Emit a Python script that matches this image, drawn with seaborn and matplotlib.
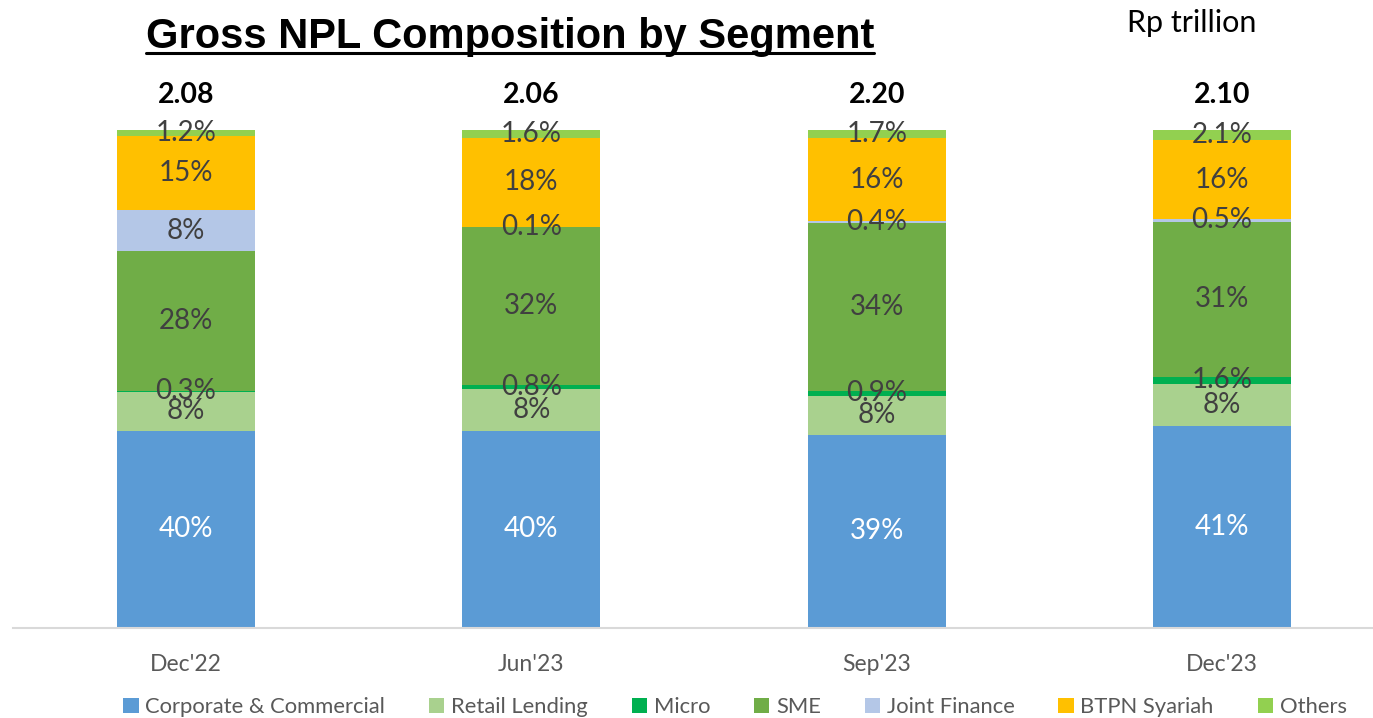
import matplotlib
matplotlib.use("Agg")
import matplotlib.pyplot as plt
from matplotlib.lines import Line2D
from matplotlib.patches import Patch
import seaborn as sns
import pandas as pd
import numpy as np

periods = ["Dec'22", "Jun'23", "Sep'23", "Dec'23"]
totals = ["2.08", "2.06", "2.20", "2.10"]
segments = ["Corporate & Commercial", "Retail Lending", "Micro", "SME",
            "Joint Finance", "BTPN Syariah", "Others"]
corporate = [39.8, 39.6, 38.8, 40.6]
retail = [7.8, 8.4, 7.8, 8.3]
micro = [0.3, 0.8, 0.9, 1.6]
sme = [28.1, 31.7, 33.8, 31.1]
joint = [8.4, 0.1, 0.4, 0.5]
btpn = [14.9, 17.8, 16.5, 15.8]
others = [1.2, 1.6, 1.7, 2.1]
labels_corporate = ["40%", "40%", "39%", "41%"]
labels_retail = ["8%", "8%", "8%", "8%"]
labels_micro = ["0.3%", "0.8%", "0.9%", "1.6%"]
labels_sme = ["28%", "32%", "34%", "31%"]
labels_joint = ["8%", "0.1%", "0.4%", "0.5%"]
labels_btpn = ["15%", "18%", "16%", "16%"]
labels_others = ["1.2%", "1.6%", "1.7%", "2.1%"]

colors = ["#5B9BD5", "#A9D18E", "#00B050", "#70AD47", "#B4C7E7", "#FFC000", "#92D050"]
series = [corporate, retail, micro, sme, joint, btpn, others]
labels = [labels_corporate, labels_retail, labels_micro, labels_sme,
          labels_joint, labels_btpn, labels_others]

sns.set_style("white")
plt.rcParams["font.family"] = ["Lato", "DejaVu Sans"]

fig = plt.figure(figsize=(13.73, 7.18), dpi=100)
ax = fig.add_axes([13 / 1373, 90 / 718, 1360 / 1373, 498 / 718])

vals = np.array(series, dtype=float)
vals = vals / vals.sum(axis=0) * 100.0
cum = np.cumsum(vals, axis=0)

# draw cumulative bars from the top layer down so lower layers cover upper ones
for i in range(len(segments) - 1, -1, -1):
    df = pd.DataFrame({"period": periods, "value": cum[i]})
    sns.barplot(data=df, x="period", y="value", color=colors[i], width=0.4,
                saturation=1, ax=ax, order=periods, errorbar=None,
                linewidth=0, edgecolor="none")

for i, seg in enumerate(segments):
    for j in range(len(periods)):
        bottom = cum[i - 1][j] if i > 0 else 0
        yc = bottom + vals[i][j] / 2
        ax.text(j, yc, labels[i][j], ha="center", va="center", fontsize=20,
                color="white" if i == 0 else "#404040", zorder=10)

for j, t in enumerate(totals):
    ax.text(j, 105.5, t, ha="center", va="baseline", fontsize=20.5,
            fontweight="bold", color="black", clip_on=False)

ax.set_xlim(-0.501, 3.437)
ax.set_ylim(0, 100)
ax.set_xlabel("")
ax.set_ylabel("")
ax.set_yticks([])
ax.tick_params(axis="x", length=0, pad=19, labelsize=16.5, labelcolor="#595959")
for s in ["top", "left", "right"]:
    ax.spines[s].set_visible(False)
ax.spines["bottom"].set_color("#D9D9D9")
ax.spines["bottom"].set_linewidth(1.5)

title = fig.text(510 / 1373, 1 - 48 / 718, "Gross NPL Composition by Segment",
                 ha="center", va="baseline", fontsize=30, fontweight="bold",
                 family="Liberation Sans", color="black")
fig.text(1192 / 1373, 1 - 32 / 718, "Rp trillion", ha="center", va="baseline",
         fontsize=22, color="black")

fig.canvas.draw()
bb = title.get_window_extent(renderer=fig.canvas.get_renderer())
bbf = bb.transformed(fig.transFigure.inverted())
uy = 1 - 53 / 718
fig.add_artist(Line2D([bbf.x0, bbf.x1], [uy, uy], color="black", linewidth=2.2,
                      transform=fig.transFigure))

handles = [Patch(facecolor=c, edgecolor="none") for c in colors]
fig.legend(handles, segments, loc="center", bbox_to_anchor=(735 / 1373, 1 - 707 / 718),
           ncol=7, frameon=False, fontsize=15.8, labelcolor="#595959",
           handlelength=0.7, handleheight=0.7, handletextpad=0.3, columnspacing=2.0)

fig.savefig("out.png", dpi=100)
